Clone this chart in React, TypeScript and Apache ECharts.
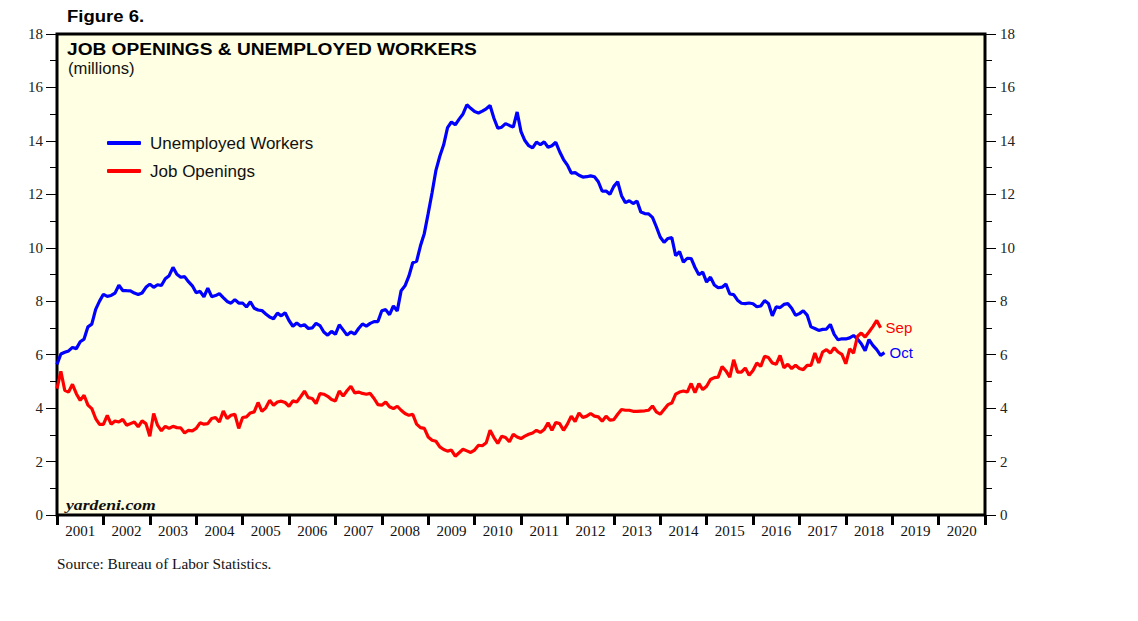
import React, { useEffect, useRef } from "react";
import * as echarts from "echarts";

// Monthly data, first value = Dec 2000 (plotted at 2001.0), millions
const yearLabels = [
  "2001", "2002", "2003", "2004", "2005", "2006", "2007", "2008", "2009", "2010",
  "2011", "2012", "2013", "2014", "2015", "2016", "2017", "2018", "2019", "2020",
];

// Unemployed workers, Dec 2000 .. Oct 2018
const unemployedWorkers = [
  5.634,
  6.023, 6.089, 6.141, 6.271, 6.226, 6.484, 6.583, 7.042, 7.142, 7.694, 8.003, 8.258,
  8.182, 8.215, 8.304, 8.599, 8.399, 8.393, 8.39, 8.304, 8.251, 8.307, 8.52, 8.64,
  8.52, 8.618, 8.588, 8.842, 8.957, 9.266, 9.011, 8.896, 8.921, 8.732, 8.576, 8.317,
  8.37, 8.167, 8.491, 8.17, 8.212, 8.286, 8.136, 7.99, 7.927, 8.061, 7.932, 7.934,
  7.784, 7.98, 7.737, 7.672, 7.651, 7.524, 7.406, 7.345, 7.553, 7.453, 7.566, 7.279,
  7.064, 7.184, 7.072, 7.12, 6.98, 7.001, 7.175, 7.091, 6.847, 6.727, 6.872, 6.762,
  7.116, 6.927, 6.731, 6.85, 6.766, 6.979, 7.149, 7.067, 7.17, 7.237, 7.24, 7.645,
  7.685, 7.497, 7.822, 7.637, 8.395, 8.575, 8.937, 9.438, 9.494, 10.074, 10.538, 11.286,
  12.058, 12.898, 13.426, 13.853, 14.499, 14.707, 14.601, 14.814, 15.009, 15.352, 15.219, 15.098,
  15.046, 15.113, 15.202, 15.325, 14.849, 14.474, 14.512, 14.648, 14.579, 14.516, 15.081, 14.348,
  14.013, 13.82, 13.737, 13.957, 13.855, 13.962, 13.763, 13.818, 13.948, 13.594, 13.302, 13.093,
  12.797, 12.813, 12.713, 12.646, 12.66, 12.692, 12.656, 12.471, 12.115, 12.124, 12.005, 12.298,
  12.471, 11.95, 11.689, 11.76, 11.654, 11.751, 11.335, 11.279, 11.27, 11.136, 10.787, 10.404,
  10.202, 10.349, 10.38, 9.702, 9.859, 9.46, 9.608, 9.599, 9.262, 8.99, 9.09, 8.717,
  8.903, 8.61, 8.504, 8.526, 8.64, 8.27, 8.248, 8.039, 7.925, 7.911, 7.934, 7.907,
  7.791, 7.822, 8.023, 7.917, 7.455, 7.787, 7.76, 7.88, 7.909, 7.738, 7.472, 7.535,
  7.642, 7.48, 7.04, 6.98, 6.907, 6.946, 6.957, 7.132, 6.759, 6.556, 6.596, 6.588,
  6.629, 6.717, 6.591, 6.406, 6.15, 6.564, 6.35, 6.187, 5.976, 6.075,
];

// Job openings, Dec 2000 .. Sep 2018
const jobOpenings = [
  4.73,
  5.38, 4.67, 4.6, 4.89, 4.54, 4.29, 4.48, 4.11, 3.98, 3.61, 3.39, 3.39,
  3.73, 3.4, 3.52, 3.48, 3.58, 3.36, 3.42, 3.48, 3.3, 3.52, 3.42, 2.95,
  3.8, 3.36, 3.15, 3.32, 3.24, 3.32, 3.27, 3.26, 3.07, 3.17, 3.15, 3.24,
  3.45, 3.4, 3.42, 3.61, 3.65, 3.48, 3.89, 3.61, 3.73, 3.77, 3.24, 3.65,
  3.67, 3.82, 3.86, 4.21, 3.88, 4.01, 4.29, 4.11, 4.23, 4.26, 4.21, 4.07,
  4.27, 4.23, 4.42, 4.64, 4.39, 4.36, 4.17, 4.54, 4.52, 4.44, 4.32, 4.27,
  4.64, 4.45, 4.65, 4.82, 4.57, 4.6, 4.55, 4.52, 4.55, 4.36, 4.13, 4.11,
  4.23, 4.05, 3.98, 4.07, 3.92, 3.8, 3.73, 3.77, 3.4, 3.27, 3.24, 2.92,
  2.8, 2.76, 2.55, 2.45, 2.39, 2.43, 2.2, 2.33, 2.46, 2.4, 2.34, 2.43,
  2.61, 2.59, 2.7, 3.17, 2.9, 2.68, 2.95, 2.9, 2.74, 3.02, 2.92, 2.86,
  2.95, 3.02, 3.07, 3.17, 3.09, 3.2, 3.45, 3.17, 3.46, 3.42, 3.17, 3.4,
  3.7, 3.5, 3.82, 3.65, 3.7, 3.8, 3.7, 3.67, 3.51, 3.7, 3.55, 3.57,
  3.77, 3.95, 3.92, 3.92, 3.88, 3.88, 3.89, 3.9, 3.92, 4.08, 3.86, 3.77,
  3.95, 4.13, 4.19, 4.52, 4.6, 4.64, 4.6, 4.92, 4.58, 4.92, 4.69, 4.82,
  5.07, 5.14, 5.16, 5.56, 5.39, 5.16, 5.81, 5.35, 5.35, 5.5, 5.23, 5.41,
  5.69, 5.56, 5.94, 5.89, 5.69, 5.64, 5.97, 5.51, 5.64, 5.48, 5.6, 5.48,
  5.44, 5.6, 5.6, 6.06, 5.69, 6.1, 6.19, 6.06, 6.26, 6.1, 6.01, 5.66,
  6.22, 6.06, 6.68, 6.81, 6.66, 6.85, 7.05, 7.28, 7.01,
];

const START_X = 2001; // position of the first monthly value (Dec 2000)
const toPoints = (values: number[]) => values.map((v, i) => [START_X + i / 12, v]);

const SANS = "'Liberation Sans', Arial, sans-serif";
const SERIF = "'Liberation Serif', 'Times New Roman', serif";

export default function App() {
  const ref = useRef<HTMLDivElement>(null);

  useEffect(() => {
    const chart = echarts.init(ref.current!, null, { renderer: "svg" });
    const yAxisBase = {
      type: "value",
      min: 0,
      max: 18,
      interval: 2,
      axisLine: { show: false },
      axisTick: { show: true, length: 11, lineStyle: { color: "#000", width: 1 } },
      minorTick: { show: true, splitNumber: 2, length: 7, lineStyle: { color: "#000", width: 1 } },
      splitLine: { show: false },
      minorSplitLine: { show: false },
    };
    chart.setOption({
      animation: false,
      backgroundColor: "#ffffff",
      grid: {
        left: 57,
        right: 153,
        top: 34,
        bottom: 106,
        show: true,
        backgroundColor: "#FFFFE3",
        borderColor: "#000",
        borderWidth: 3,
      },
      legend: {
        orient: "vertical",
        left: 107,
        top: 133,
        padding: 0,
        itemWidth: 34,
        itemHeight: 4,
        itemGap: 8,
        icon: "roundRect",
        selectedMode: false,
        textStyle: { fontSize: 17, fontFamily: SANS, color: "#111", lineHeight: 20, padding: [0, 0, 0, 4] },
        data: ["Unemployed Workers", "Job Openings"],
      },
      xAxis: [
        {
          type: "category",
          data: yearLabels,
          position: "bottom",
          boundaryGap: true,
          axisLine: { show: false },
          axisTick: { show: true, interval: 0, length: 10, lineStyle: { color: "#000", width: 3 } },
          axisLabel: { interval: 0, margin: 8, fontSize: 15, fontFamily: SERIF, color: "#111" },
          splitLine: { show: false },
        },
        { type: "value", min: 2001, max: 2021, show: false, splitLine: { show: false } },
      ],
      yAxis: [
        { ...yAxisBase, position: "left", axisLabel: { margin: 14, fontSize: 15, fontFamily: SERIF, color: "#222" } },
        { ...yAxisBase, position: "right", axisLabel: { margin: 15, fontSize: 15, fontFamily: SERIF, color: "#222" } },
      ],
      series: [
        {
          name: "Unemployed Workers",
          type: "line",
          xAxisIndex: 1,
          yAxisIndex: 0,
          data: toPoints(unemployedWorkers),
          showSymbol: false,
          symbol: "none",
          lineStyle: { color: "#0000FF", width: 3.2 },
          itemStyle: { color: "#0000FF" },
          endLabel: { show: true, formatter: "Oct", color: "#0000FF", fontSize: 15, fontFamily: SANS, distance: 5 },
          z: 3,
        },
        {
          name: "Job Openings",
          type: "line",
          xAxisIndex: 1,
          yAxisIndex: 0,
          data: toPoints(jobOpenings),
          showSymbol: false,
          symbol: "none",
          lineStyle: { color: "#FF0000", width: 3.2 },
          itemStyle: { color: "#FF0000" },
          endLabel: { show: true, formatter: "Sep", color: "#FF0000", fontSize: 15, fontFamily: SANS, distance: 5 },
          z: 4,
        },
      ],
      graphic: [
        {
          type: "text",
          x: 67,
          y: 16,
          scaleX: 1.09,
          style: { text: "Figure 6.", fontSize: 17, fontWeight: "bold", fontFamily: SANS, fill: "#000", verticalAlign: "middle" },
        },
        {
          type: "text",
          x: 67,
          y: 49,
          scaleX: 1.125,
          style: {
            text: "JOB OPENINGS & UNEMPLOYED WORKERS",
            fontSize: 17,
            fontWeight: "bold",
            fontFamily: SANS,
            fill: "#000",
            verticalAlign: "middle",
          },
        },
        {
          type: "text",
          x: 68,
          y: 68,
          scaleX: 1.04,
          style: { text: "(millions)", fontSize: 16, fontFamily: SANS, fill: "#111", verticalAlign: "middle" },
        },
        {
          type: "text",
          x: 66,
          y: 505,
          scaleX: 1.18,
          style: {
            text: "yardeni.com",
            fontSize: 15,
            fontWeight: "bold",
            fontStyle: "italic",
            fontFamily: SERIF,
            fill: "#111",
            verticalAlign: "middle",
          },
        },
        {
          type: "text",
          x: 57,
          y: 564,
          scaleX: 1.02,
          style: { text: "Source: Bureau of Labor Statistics.", fontSize: 15, fontFamily: SERIF, fill: "#111", verticalAlign: "middle" },
        },
      ],
    });
    return () => chart.dispose();
  }, []);

  return (
    <div
      ref={ref}
      style={{ position: "absolute", left: 0, top: 0, width: 1138, height: 621, background: "#fff" }}
    />
  );
}
